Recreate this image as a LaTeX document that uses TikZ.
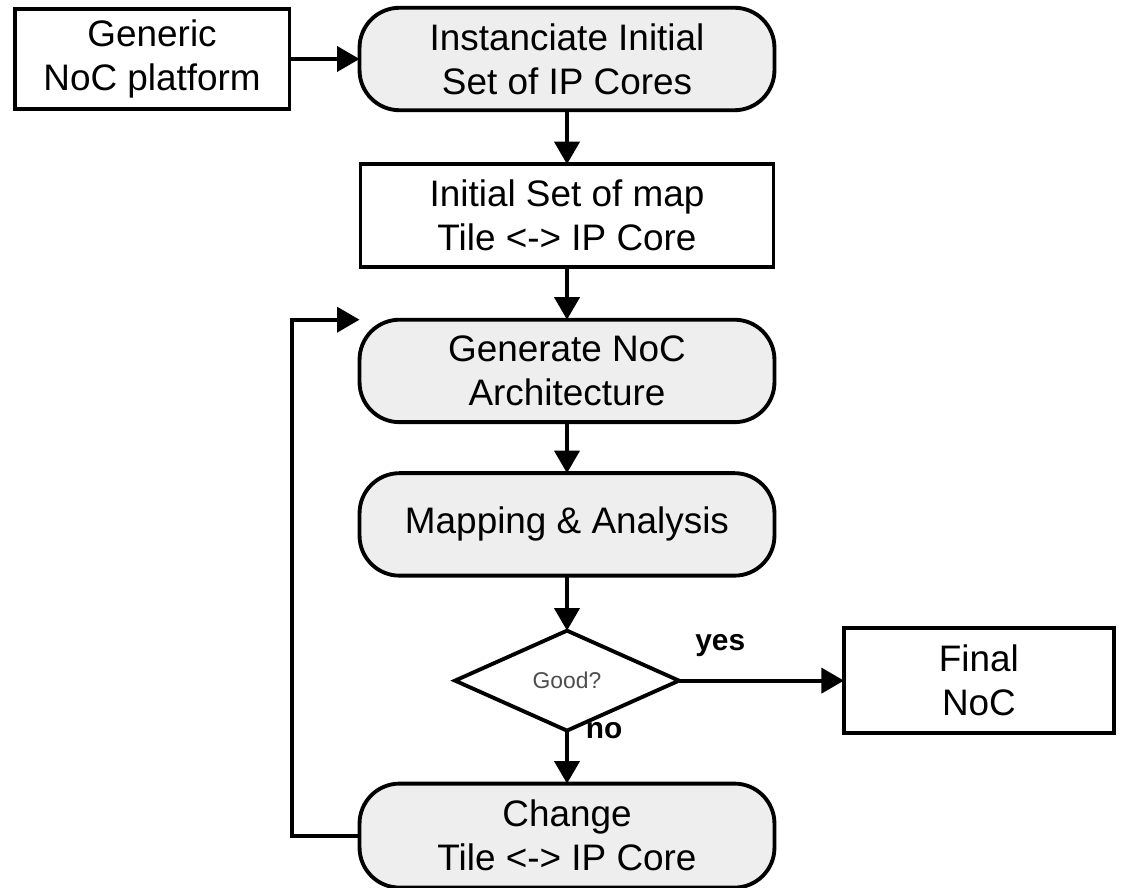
\documentclass[tikz,border=0pt]{standalone}
\usepackage{fontspec}
\setmainfont{Liberation Sans}
\usepackage{tikz}
\usetikzlibrary{arrows.meta, positioning, shapes.geometric}
\definecolor{boxgray}{RGB}{238,238,238}

\begin{document}
\begin{tikzpicture}[x=0.02cm, y=-0.02cm,
  box/.style={draw, line width=2.2pt, inner sep=2pt, outer sep=0pt, minimum width=5.5cm, minimum height=2.05cm, align=center, font=\fontsize{21}{25}\selectfont},
  term/.style={box, fill=boxgray, rounded corners=0.8cm, minimum width=8.3cm},
  dec/.style={draw, diamond, line width=2.2pt, outer sep=0pt, minimum width=4.48cm, minimum height=2cm, aspect=2.24, inner sep=0pt, font=\fontsize{13}{15}\selectfont, text=black!70},
  lbl/.style={font=\fontsize{17}{19}\selectfont\bfseries, inner sep=0pt},
  arr/.style={-{Triangle[length=0.45cm, width=0.5cm]}, line width=2.2pt},
]
  \useasboundingbox (0,0) rectangle (1122,888);

  \node[term] (inst) at (567,59) {Instanciate Initial\\Set of IP Cores};
  \node[box, left=1.4cm of inst, minimum height=2cm] (gen) {Generic\\NoC platform};
  \node[box, minimum width=8.26cm, below=1.08cm of inst] (map) {Initial Set of map\\Tile <-> IP Core};
  \node[term, below=1.06cm of map] (arch) {Generate NoC\\Architecture};
  \node[term, below=1.02cm of arch] (mapan) {Mapping \& Analysis};
  \node[dec, below=1.1cm of mapan] (good) {Good?};
  \node[box, minimum width=5.4cm, minimum height=2.1cm, right=3.3cm of good] (final) {Final\\NoC};
  \node[term, minimum height=2.08cm, below=1.06cm of good] (change) {Change\\Tile <-> IP Core};

  \draw[arr] (gen) -- (inst);
  \draw[arr] (inst) -- (map);
  \draw[arr] (map) -- (arch);
  \draw[arr] (arch) -- (mapan);
  \draw[arr] (mapan) -- (good);
  \draw[arr] (good.east) -- node[lbl, above=0.45cm, pos=0.25] (yes) {yes} (final);
  \draw[arr] (good.south) -- node[lbl, right=0.34cm, pos=0] (no) {no} (change);
  \draw[arr] (change.west) -| ([xshift=-1.35cm]arch.north west) -- (arch.north west);
\end{tikzpicture}
\end{document}
